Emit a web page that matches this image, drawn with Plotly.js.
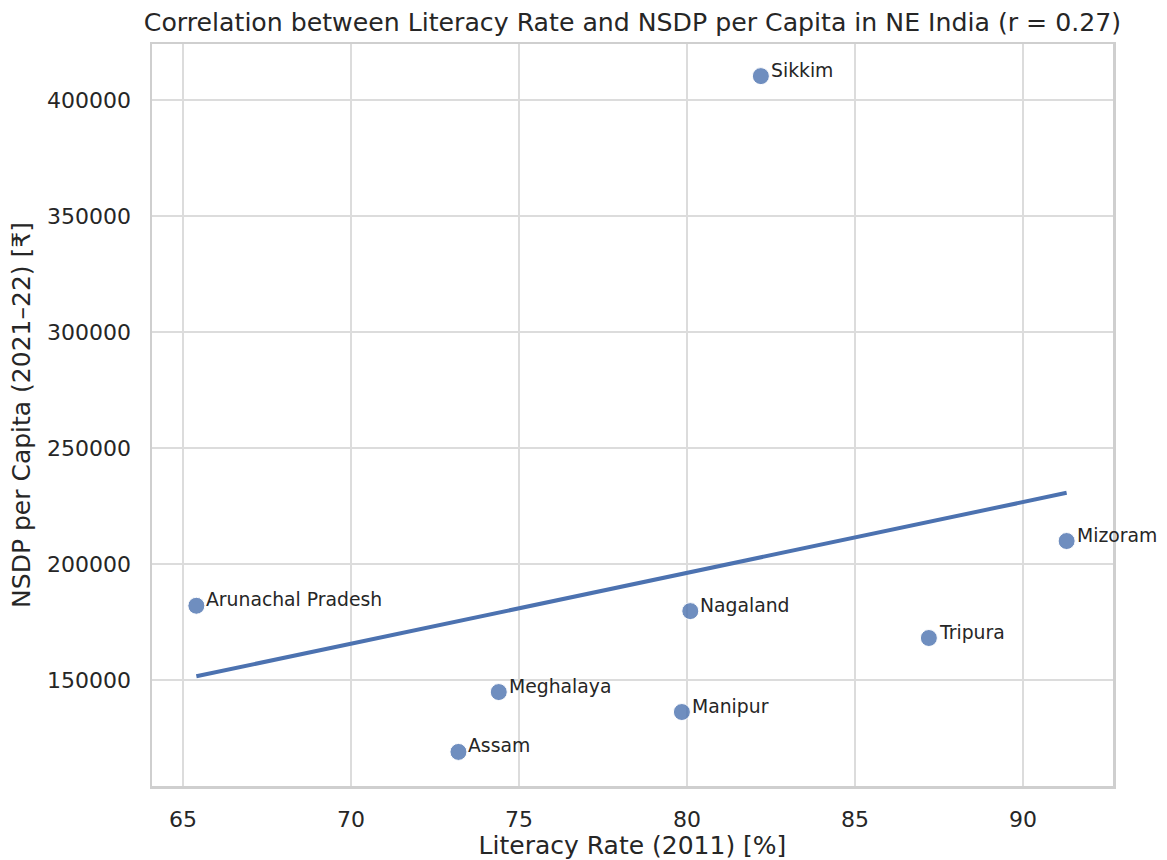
<!DOCTYPE html>
<html>
<head>
<meta charset="utf-8">
<script src="https://cdn.plot.ly/plotly-3.0.1.min.js"></script>
<style>
  html, body { margin: 0; padding: 0; background: #ffffff; }
  #chart { width: 1167px; height: 860px; }
</style>
</head>
<body>
<div id="chart"></div>
<script>
// North-east Indian states: literacy (Census 2011) vs NSDP per capita (2021-22)
const states = ["Arunachal Pradesh", "Assam", "Meghalaya", "Manipur", "Nagaland", "Sikkim", "Tripura", "Mizoram"];
const literacy = [65.4, 73.2, 74.4, 79.85, 80.1, 82.2, 87.2, 91.3];
const nsdpPerCapita = [182000, 119000, 144800, 136200, 179700, 410300, 168100, 209900];
const xTicks = [65, 70, 75, 80, 85, 90];
const yTicks = [150000, 200000, 250000, 300000, 350000, 400000];

// Least-squares fit and Pearson correlation
const n = literacy.length;
const mx = literacy.reduce((a, b) => a + b, 0) / n;
const my = nsdpPerCapita.reduce((a, b) => a + b, 0) / n;
let sxy = 0, sxx = 0, syy = 0;
for (let i = 0; i < n; i++) {
  const dx = literacy[i] - mx, dy = nsdpPerCapita[i] - my;
  sxy += dx * dy; sxx += dx * dx; syy += dy * dy;
}
const slope = sxy / sxx;
const intercept = my - slope * mx;
const r = sxy / Math.sqrt(sxx * syy);
const xmin = Math.min(...literacy), xmax = Math.max(...literacy);
const fitX = [xmin, xmax];
const fitY = fitX.map(x => intercept + slope * x);

const textColor = "#262626";
const font = "DejaVu Sans, Verdana, sans-serif";

const scatter = {
  type: "scatter",
  mode: "markers",
  x: literacy,
  y: nsdpPerCapita,
  text: states,
  marker: { size: 17, color: "#4c72b0", opacity: 0.8, line: { color: "#ffffff", width: 1 } },
  hoverinfo: "text+x+y",
  cliponaxis: false
};

const fit = {
  type: "scatter",
  mode: "lines",
  x: fitX,
  y: fitY,
  line: { color: "#4c72b0", width: 4 },
  hoverinfo: "skip"
};

const annotations = states.map((s, i) => ({
  x: literacy[i],
  y: nsdpPerCapita[i],
  xref: "x", yref: "y",
  text: s,
  showarrow: false,
  xanchor: "left",
  yanchor: "middle",
  xshift: 8,
  yshift: 6,
  font: { family: font, size: 18.8, color: textColor }
}));

const axisCommon = {
  showgrid: true,
  gridcolor: "#dcdcdc",
  gridwidth: 2,
  zeroline: false,
  showline: true,
  mirror: true,
  linecolor: "#cfcfcf",
  linewidth: 2.5,
  ticks: "",
  tickfont: { family: font, size: 22, color: textColor },
  automargin: false
};

const layout = {
  width: 1167,
  height: 860,
  paper_bgcolor: "#ffffff",
  plot_bgcolor: "#ffffff",
  showlegend: false,
  margin: { l: 152, r: 54, t: 44, b: 74 },
  title: {
    text: "Correlation between Literacy Rate and NSDP per Capita in NE India (r = " + r.toFixed(2) + ")",
    font: { family: font, size: 25.2, color: textColor },
    x: 0.5, xref: "paper", xanchor: "center",
    y: 1 - 22 / 860, yref: "container", yanchor: "middle"
  },
  xaxis: Object.assign({}, axisCommon, {
    range: [64.08, 92.68],
    tickvals: xTicks,
    ticktext: xTicks.map(String),
    ticklabelstandoff: 12,
    title: { text: "Literacy Rate (2011) [%]", font: { family: font, size: 25, color: textColor }, standoff: 16 }
  }),
  yaxis: Object.assign({}, axisCommon, {
    range: [104310, 424140],
    tickvals: yTicks,
    ticktext: yTicks.map(String),
    ticklabelstandoff: 14,
    title: { text: "NSDP per Capita (2021–22) [₹]", font: { family: font, size: 25, color: textColor }, standoff: 10 }
  }),
  annotations: annotations
};

Plotly.newPlot("chart", [fit, scatter], layout, { displayModeBar: false, staticPlot: true });
</script>
</body>
</html>
